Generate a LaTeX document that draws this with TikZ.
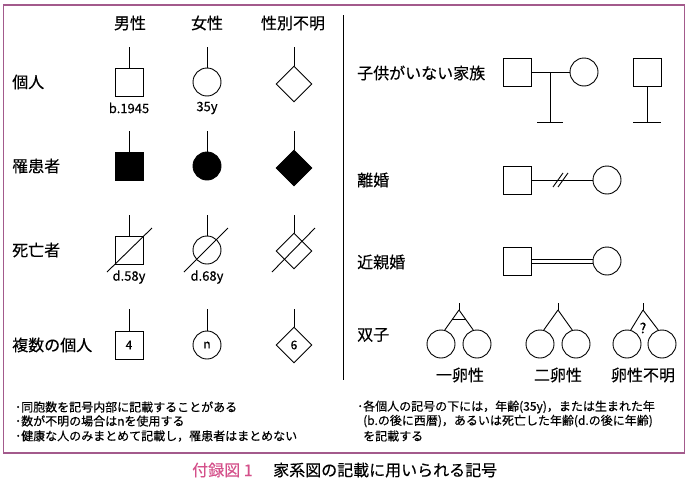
\documentclass[tikz,border=0pt]{standalone}
\usepackage{fontspec}
\setmainfont{Noto Sans CJK JP}[FakeBold=0.3]
\usetikzlibrary{shapes.geometric, positioning, calc}
\definecolor{framecol}{HTML}{A35A8C}
\definecolor{capcol}{HTML}{D4508A}
\tikzstyle{edge}    = [line width=0.9pt]
\tikzstyle{male}    = [draw, line width=0.9pt, rectangle, minimum size=28pt, inner sep=0pt, font=\fontsize{12}{14}\selectfont]
\tikzstyle{female}  = [draw, line width=0.9pt, circle, minimum size=28pt, inner sep=0pt, font=\fontsize{12}{14}\selectfont]
\tikzstyle{unknown} = [draw, line width=0.9pt, diamond, minimum width=36pt, minimum height=36pt, inner sep=0pt, font=\fontsize{12}{14}\selectfont]
\tikzstyle{lbl}     = [font=\fontsize{16}{18}\selectfont, inner sep=0pt]
\tikzstyle{tag}     = [font=\fontsize{13}{15}\selectfont, inner sep=0pt]
\tikzstyle{note}    = [font=\fontsize{12}{14}\selectfont, anchor=west, inner sep=0pt]

\begin{document}
\begin{tikzpicture}[x=1pt, y=-1pt]
\useasboundingbox (0,0) rectangle (689,490);

% rám a dělicí čára
\draw[framecol, line width=1.2pt] (3.5,5) rectangle (684.5,453);
\coordinate (divt) at (343,15);
\coordinate (divb) at (343,380);
\draw[edge] (divt) -- (divb);

% záhlaví sloupců
\node[lbl] (hm) at (130,23) {男性};
\node[lbl] (hf) at (207,23) {女性};
\node[lbl] (hu) at (293,23) {性別不明};

% popisy řádků
\node[lbl, anchor=west] (r1) at (12,82)  {個人};
\node[lbl, anchor=west] (r2) at (12,166) {罹患者};
\node[lbl, anchor=west] (r3) at (12,250) {死亡者};
\node[lbl, anchor=west] (r4) at (12,345) {複数の個人};

% jedinci
\node[male]    (m1) at (129,82) {};
\node[female]  (f1) at (207,82) {};
\node[unknown] (u1) at (294,84) {};
\node[tag] (m1l) at (129,108) {b.1945};
\node[tag] (f1l) at (207,108) {35y};

% postižení
\node[male, fill=black]    (m2) at (129,166) {};
\node[female, fill=black]  (f2) at (207,166) {};
\node[unknown, fill=black] (u2) at (294,168) {};

% zemřelí
\node[male]    (m3) at (129,250) {};
\node[female]  (f3) at (207,250) {};
\node[unknown] (u3) at (294,251) {};
\node[tag] (m3l) at (129,277) {d.58y};
\node[tag] (f3l) at (207,277) {d.68y};

% více jedinců
\node[male]    (m4) at (129,345) {4};
\node[female]  (f4) at (207,345) {n};
\node[unknown] (u4) at (294,345) {6};

% stonky
\coordinate (m1s) at (129,47);  \coordinate (f1s) at (207,47);  \coordinate (u1s) at (294,47);
\coordinate (m2s) at (129,131); \coordinate (f2s) at (207,131); \coordinate (u2s) at (294,131);
\coordinate (m3s) at (129,215); \coordinate (f3s) at (207,215); \coordinate (u3s) at (294,215);
\coordinate (m4s) at (129,309); \coordinate (f4s) at (207,309); \coordinate (u4s) at (294,309);
\draw[edge] (m1s) -- (m1);
\draw[edge] (f1s) -- (f1);
\draw[edge] (u1s) -- (u1);
\draw[edge] (m2s) -- (m2);
\draw[edge] (f2s) -- (f2);
\draw[edge] (u2s) -- (u2);
\draw[edge] (m3s) -- (m3);
\draw[edge] (f3s) -- (f3);
\draw[edge] (u3s) -- (u3);
\draw[edge] (m4s) -- (m4);
\draw[edge] (f4s) -- (f4);
\draw[edge] (u4s) -- (u4);

% přeškrtnutí
\coordinate (m3a) at (107,272); \coordinate (m3b) at (152,228);
\coordinate (f3a) at (184,272); \coordinate (f3b) at (228,228);
\coordinate (u3a) at (272,272); \coordinate (u3b) at (315,228);
\draw[edge] (m3a) -- (m3b);
\draw[edge] (f3a) -- (f3b);
\draw[edge] (u3a) -- (u3b);

% bezdětná rodina
\node[lbl, anchor=west] (r5) at (357,73) {子供がいない家族};
\node[male]   (nm) at (517,72) {};
\node[female] (nf) at (584,72) {};
\node[male]   (nm2) at (647,72) {};
\coordinate (nc)  at (550,72);
\coordinate (nb)  at (550,122);
\coordinate (nbl) at (537,122);
\coordinate (nbr) at (563,122);
\coordinate (nb2)  at (647,122);
\coordinate (nbl2) at (633,122);
\coordinate (nbr2) at (661,122);
\draw[edge] (nm) -- (nf);
\draw[edge] (nc) -- (nb);
\draw[edge] (nbl) -- (nbr);
\draw[edge] (nm2) -- (nb2);
\draw[edge] (nbl2) -- (nbr2);

% rozvod
\node[lbl, anchor=west] (r6) at (357,180) {離婚};
\node[male]   (dm) at (517,180) {};
\node[female] (df) at (607,180) {};
\coordinate (ds1a) at (553,187); \coordinate (ds1b) at (563,173);
\coordinate (ds2a) at (558,187); \coordinate (ds2b) at (568,173);
\draw[edge] (dm) -- (df);
\draw[edge] (ds1a) -- (ds1b);
\draw[edge] (ds2a) -- (ds2b);

% příbuzenské manželství
\node[lbl, anchor=west] (r7) at (357,262) {近親婚};
\node[male]   (km) at (517,261) {};
\node[female] (kf) at (607,261) {};
\draw[edge] ([yshift=-2pt]km.east) -- ([yshift=-2pt]kf.west);
\draw[edge] ([yshift=2pt]km.east) -- ([yshift=2pt]kf.west);

% dvojčata
\node[lbl, anchor=west] (r8) at (357,335) {双子};
\node[female] (t1a) at (441,344) {};
\node[female] (t1b) at (477,344) {};
\node[female] (t2a) at (540,344) {};
\node[female] (t2b) at (576,344) {};
\node[female] (t3a) at (627,344) {};
\node[female] (t3b) at (662,344) {};
\coordinate (t1s) at (459,303); \coordinate (t1) at (459,310);
\coordinate (t2s) at (558,303); \coordinate (t2) at (558,310);
\coordinate (t3s) at (643,303); \coordinate (t3) at (643,310);
\draw[edge] (t1s) -- (t1);
\draw[edge] (t1) -- (t1a.75);
\draw[edge] (t1) -- (t1b.105);
\draw[edge] ($(t1)!0.48!(t1a.75)$) -- ($(t1)!0.48!(t1b.105)$);
\draw[edge] (t2s) -- (t2);
\draw[edge] (t2) -- (t2a.75);
\draw[edge] (t2) -- (t2b.105);
\draw[edge] (t3s) -- (t3);
\draw[edge] (t3) -- (t3a.75);
\draw[edge] (t3) -- (t3b.105);
\node[tag, font=\fontsize{14}{16}\selectfont] (q3) at (643,328) {?};
\node[lbl] (t1l) at (460,375) {一卵性};
\node[lbl] (t2l) at (558,375) {二卵性};
\node[lbl] (t3l) at (643,375) {卵性不明};

% poznámky
\node[note] (n1) at (15,407) {･同胞数を記号内部に記載することがある};
\node[note] (n2) at (15,421) {･数が不明の場合はnを使用する};
\node[note] (n3) at (15,436) {･健康な人のみまとめて記載し，罹患者はまとめない};
\node[note] (n4) at (357,407) {･各個人の記号の下には，年齢(35y)，または生まれた年};
\node[note] (n5) at (363,421) {(b.の後に西暦)，あるいは死亡した年齢(d.の後に年齢)};
\node[note] (n6) at (363,436) {を記載する};

% titulek
\node[lbl, anchor=west, text=capcol] (cap1) at (192,470) {付録図 1};
\node[lbl, anchor=west] (cap2) at (273,470) {家系図の記載に用いられる記号};
\end{tikzpicture}
\end{document}
